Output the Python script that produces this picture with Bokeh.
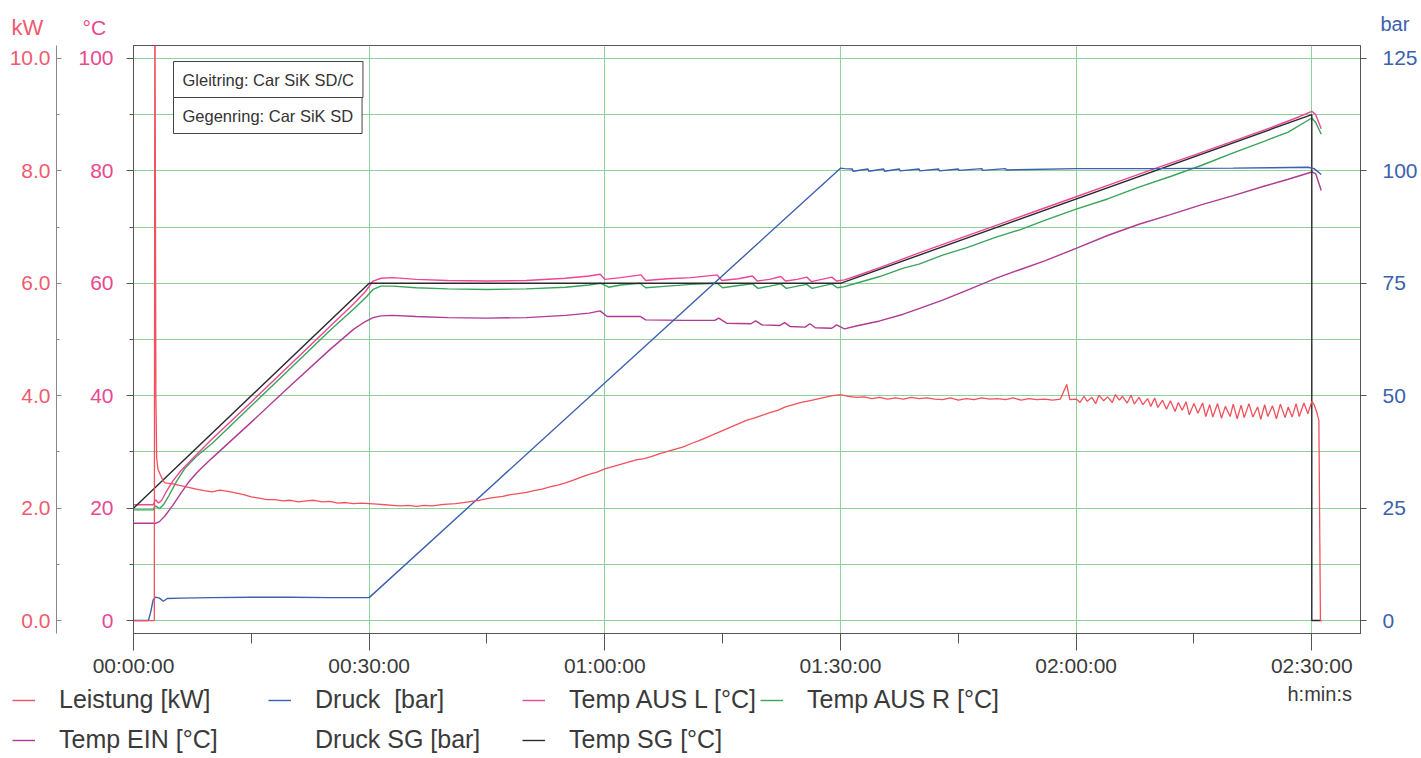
from bokeh.plotting import figure
from bokeh.layouts import column
from bokeh.models import (Range1d, LinearAxis, FixedTicker, NumeralTickFormatter,
                          Label, Legend, LegendItem)
from bokeh.embed import file_html
from bokeh.resources import INLINE

FONT = "Liberation Sans"
NAN = float("nan")

# ---------------- axes / ticks ----------------
x_ticks = [0, 30, 60, 90, 120, 150]
x_tick_labels = ["00:00:00", "00:30:00", "01:00:00", "01:30:00", "02:00:00", "02:30:00"]
x_minor = [15, 45, 75, 105, 135]
c_ticks = [0, 20, 40, 60, 80, 100]
c_minor = [10, 30, 50, 70, 90]
c_grid = [0, 10, 20, 30, 40, 50, 60, 70, 80, 90, 100]
kw_ticks = [0, 2, 4, 6, 8, 10]
kw_minor = [1, 3, 5, 7, 9]
bar_ticks = [0, 25, 50, 75, 100, 125]

series_names = ["Leistung [kW]", "Druck  [bar]", "Temp AUS L [°C]", "Temp AUS R [°C]",
                "Temp EIN [°C]", "Druck SG [bar]", "Temp SG [°C]"]
info_texts = ["Gleitring: Car SiK SD/C", "Gegenring: Car SiK SD"]

# ---------------- data (time in minutes) ----------------
# Temp SG [°C]
sg_t = [0, 30, 90, 150, 150, 151.2]
sg_v = [20, 60, 60, 90, 0, 0]

# Druck [bar]
p_t = [0, 1.9, 2.2, 2.5, 2.8, 3.3, 3.8, 4.3, 6, 10, 15, 20, 25, 30, 90, 90.5,
       91.5, 91.6, 93.5, 93.6, 95.5, 95.6, 97.5, 97.6, 100, 100.1, 102.5, 102.6,
       105, 105.1, 108, 108.1, 111, 111.1, 120, 130, 140, 145, 149.5, 150.3, 151.2]
p_v = [0, 0, 2.0, 4.6, 5.2, 5.0, 4.3, 4.9, 5.0, 5.1, 5.2, 5.2, 5.1, 5.1, 100.6, 100.5,
       100.4, 99.9, 100.4, 99.9, 100.4, 99.9, 100.4, 100.0, 100.4, 100.0, 100.4, 100.0,
       100.4, 100.1, 100.5, 100.1, 100.5, 100.2, 100.5, 100.5, 100.6, 100.7, 100.8, 100.5, 99.2]

# Leistung [kW]
kw_t = [0, 2.65, 2.72, 2.85, 2.95, 3.1, 3.4, 3.8,
        4, 5, 6, 7, 8, 9, 10, 11, 12, 13, 14, 15, 16, 17, 18, 19, 20, 21, 22, 23, 24, 25,
        26, 27, 28, 29, 30, 31, 32, 33, 34, 35, 36, 37, 38, 39, 40, 41, 42, 43, 44, 45,
        46, 47, 48, 49, 50, 51, 52, 53, 54, 55, 56, 57, 58, 59, 60, 61, 62, 63, 64, 65,
        66, 67, 68, 69, 70, 71, 72, 73, 74, 75, 76, 77, 78, 79, 80, 81, 82, 83, 84, 85,
        86, 87, 88, 89, 90, 91, 92, 93, 94, 95, 96, 97, 98, 99, 100, 101, 102, 103, 104, 105,
        106, 107, 108, 109, 110, 111, 112, 113, 114, 115, 116, 117, 118, 118.8, 119.2, 120,
        120.5, 121, 121.4, 122, 122.5, 122.9, 123.5, 124, 124.6, 125, 125.5, 125.9, 126.5, 127,
        127.4, 128, 128.5, 129.1, 129.5, 130, 130.4, 131, 131.5, 132, 132.6, 133, 133.5, 134,
        134.4, 135, 135.5, 136.1, 136.5, 137, 137.4, 138, 138.5, 139, 139.6, 140, 140.5, 141,
        141.4, 142, 142.5, 143.1, 143.5, 144, 144.4, 145, 145.5, 146, 146.6, 147, 147.5, 148,
        148.4, 149, 149.5, 150, 150.3, 150.6, 150.9, 151.1, 151.2, 151.3]
kw_v = [0, 0, 12.0, 4.0, 2.9, 2.7, 2.6, 2.48,
        2.45, 2.43, 2.40, 2.37, 2.34, 2.31, 2.29, 2.32, 2.30, 2.27, 2.24, 2.20, 2.18, 2.15, 2.15, 2.13, 2.14, 2.11, 2.13, 2.14, 2.11, 2.12,
        2.09, 2.10, 2.08, 2.09, 2.08, 2.07, 2.06, 2.05, 2.04, 2.05, 2.03, 2.05, 2.04, 2.06, 2.07, 2.08, 2.10, 2.12, 2.14, 2.17,
        2.19, 2.21, 2.24, 2.26, 2.28, 2.31, 2.34, 2.38, 2.41, 2.45, 2.50, 2.55, 2.60, 2.64, 2.70, 2.74, 2.78, 2.82, 2.86, 2.88,
        2.92, 2.97, 3.01, 3.05, 3.09, 3.15, 3.20, 3.26, 3.32, 3.38, 3.44, 3.50, 3.56, 3.60, 3.65, 3.70, 3.74, 3.80, 3.84, 3.88,
        3.91, 3.94, 3.97, 4.00, 4.02, 3.99, 3.97, 3.98, 3.95, 3.97, 3.94, 3.96, 3.94, 3.97, 3.95, 3.96, 3.94, 3.93, 3.96, 3.92,
        3.95, 3.93, 3.96, 3.94, 3.95, 3.93, 3.96, 3.92, 3.95, 3.93, 3.94, 3.92, 3.94, 4.20, 3.93, 3.94,
        3.88, 3.99, 3.90, 3.97, 3.86, 4.01, 3.91, 3.98, 3.88, 4.02, 3.92, 3.99, 3.87, 4.01,
        3.85, 3.97, 3.84, 3.95, 3.81, 3.96, 3.79, 3.92, 3.76, 3.91, 3.72, 3.88, 3.74, 3.89,
        3.66, 3.86, 3.69, 3.87, 3.63, 3.84, 3.62, 3.86, 3.60, 3.81, 3.63, 3.85, 3.59, 3.83,
        3.61, 3.86, 3.62, 3.80, 3.58, 3.84, 3.63, 3.82, 3.59, 3.85, 3.61, 3.80, 3.62, 3.86,
        3.63, 3.87, 3.68, 3.90, 3.84, 3.72, 3.56, 0, 0, 0]

# Temp AUS L [°C]
al_t = [0, 2.5, 2.8, 3.2, 3.6, 4.2, 5, 6, 8, 10, 15, 20, 25, 28, 29.5, 30.5, 31.5, 33, 36,
        40, 45, 50, 55, 58, 59.4, 60, 62, 64.6, 65.2, 68, 71, 74.3, 74.9, 77, 78.8, 79.4,
        81, 82.4, 83, 84.5, 85.7, 86.3, 88.9, 89.5, 90.5, 92, 95, 100, 105, 110, 115, 120,
        125, 130, 135, 140, 145, 148, 150, 150.5, 151.2]
al_v = [20.6, 20.6, 21.5, 20.9, 21.4, 23.0, 24.8, 26.6, 29.5, 32.3, 38.9, 45.6, 52.3, 56.3,
        58.5, 60.4, 60.9, 61.0, 60.7, 60.5, 60.4, 60.5, 60.9, 61.3, 61.6, 60.7, 61.0, 61.5,
        60.5, 60.8, 61.0, 61.5, 60.5, 60.8, 61.3, 60.4, 60.7, 61.2, 60.4, 60.7, 61.1, 60.3,
        61.1, 60.4, 60.6, 61.3, 62.8, 65.4, 67.9, 70.4, 72.9, 75.4, 77.9, 80.4, 82.8, 85.3,
        87.8, 89.4, 90.6, 90.0, 87.5]

# Temp AUS R [°C]
ar_t = [0, 2.5, 2.8, 3.3, 3.8, 4.5, 5.5, 6.6, 8, 10, 15, 20, 25, 28, 29.5, 30.5, 31.5, 33, 36,
        40, 45, 50, 55, 58, 59.5, 60.5, 62, 64.5, 65.2, 68, 71, 74.3, 75, 77, 78.8, 79.5, 81,
        82.4, 83.1, 84.5, 85.7, 86.4, 88.9, 89.6, 90.5, 92, 95, 98, 100, 103, 106, 110, 113,
        116, 120, 124, 128, 132, 136, 140, 144, 147, 150, 150.5, 151.2]
ar_v = [19.7, 19.7, 20.4, 19.9, 20.6, 22.2, 24.8, 27.2, 29.2, 31.5, 38.2, 44.9, 51.6, 55.4,
        57.4, 58.9, 59.5, 59.5, 59.2, 59.0, 58.9, 59.0, 59.3, 59.7, 60.0, 59.3, 59.7, 60.0,
        59.2, 59.5, 59.8, 60.0, 59.2, 59.6, 59.9, 59.1, 59.5, 59.9, 59.1, 59.5, 59.8, 59.1,
        59.9, 59.2, 59.4, 60.0, 61.2, 62.7, 63.4, 65.0, 66.3, 68.3, 69.6, 71.2, 73.2, 75.0,
        77.1, 79.0, 81.0, 83.2, 85.3, 86.9, 89.4, 88.6, 86.5]

# Temp EIN [°C]
ein_t = [0, 2.8, 3.3, 4, 5, 6, 7, 8, 8.8, 10, 15, 20, 25, 28, 29.5, 30.5, 31.5, 33, 36, 40,
         45, 50, 55, 58, 59.4, 60.3, 62, 64.5, 65.2, 70, 74.0, 74.5, 75.5, 78.6, 79.2, 80,
         82.3, 82.9, 83.6, 85.5, 86.1, 86.8, 88.9, 89.5, 90.5, 92, 95, 98, 100, 103, 106,
         110, 113, 116, 120, 124, 128, 132, 136, 140, 144, 147, 150, 150.5, 151.2]
ein_v = [17.3, 17.3, 17.6, 18.6, 20.5, 22.6, 24.6, 26.2, 27.3, 28.9, 35.3, 41.8, 48.2, 51.8,
         53.2, 53.9, 54.2, 54.3, 54.1, 53.9, 53.8, 53.9, 54.3, 54.7, 55.1, 54.1, 54.1, 54.1,
         53.5, 53.4, 53.4, 53.8, 52.9, 52.8, 53.3, 52.6, 52.5, 53.0, 52.3, 52.2, 52.8, 52.1,
         52.0, 52.6, 51.9, 52.4, 53.3, 54.5, 55.5, 57.0, 58.7, 61.0, 62.5, 64.0, 66.2, 68.5,
         70.5, 72.2, 74.0, 75.6, 77.3, 78.5, 79.8, 79.5, 76.5]

# ---------------- colours ----------------
C_KW = "#f2505c"
C_KW_LBL = "#f05a70"
C_DEG_LBL = "#e9488f"
C_BAR = "#3c5fae"
C_AUSL = "#ee4596"
C_AUSR = "#3aa45a"
C_EIN = "#b03a94"
C_SG = "#2a2a2a"
C_GRID = "#8ed29c"
C_TXT = "#3a3a3a"
C_AX = "#555555"
series_colors = [C_KW, C_BAR, C_AUSL, C_AUSR, C_EIN, None, C_SG]

W = 1421

def blank(height):
    f = figure(width=W, height=height, output_backend="svg", toolbar_location=None,
               x_range=Range1d(0, 1), y_range=Range1d(0, 1),
               x_axis_type=None, y_axis_type=None, min_border=0, frame_align=False,
               background_fill_color="white", border_fill_color="white")
    f.outline_line_color = None
    f.grid.visible = False
    return f

def lbl(text, x, y, size, color):
    return Label(x=x, y=y, x_units="screen", y_units="screen", text=text,
                 text_font=FONT, text_font_size=size, text_color=color,
                 text_baseline="alphabetic")

# ---------------- top strip: unit titles ----------------
top = blank(40)
top.add_layout(lbl("kW", 11, 13, "22px", C_KW_LBL))
top.add_layout(lbl("°C", 82, 13, "21px", C_DEG_LBL))
top.add_layout(lbl("bar", 1380, 17, "20px", C_BAR))

# ---------------- main chart ----------------
p = figure(width=W, height=640, output_backend="svg", toolbar_location=None,
           x_range=Range1d(0, 156.2), y_range=Range1d(-2.3, 102.3),
           min_border_left=133, min_border_right=61, min_border_top=5, min_border_bottom=47,
           frame_align=False,
           background_fill_color="white", border_fill_color="white")
p.extra_y_ranges = {"kw": Range1d(-0.23, 10.23), "bar": Range1d(-2.875, 127.875)}
p.outline_line_color = C_AX
p.outline_line_width = 1

p.xgrid.ticker = FixedTicker(ticks=x_ticks)
p.ygrid.ticker = FixedTicker(ticks=c_grid)
for g in (p.xgrid, p.ygrid):
    g.grid_line_color = C_GRID
    g.grid_line_width = 1

xa = p.xaxis[0]
xa.ticker = FixedTicker(ticks=x_ticks, minor_ticks=x_minor)
xa.major_label_overrides = dict(zip(x_ticks, x_tick_labels))
xa.major_tick_out = 17
xa.major_tick_in = 0
xa.minor_tick_out = 10
xa.minor_tick_in = 0
xa.major_label_standoff = 3
xa.major_label_text_font = FONT
xa.major_label_text_font_size = "21px"
xa.major_label_text_color = C_TXT
xa.axis_line_color = C_AX
xa.major_tick_line_color = C_AX
xa.minor_tick_line_color = C_AX

ca = p.yaxis[0]
ca.ticker = FixedTicker(ticks=c_ticks, minor_ticks=c_minor)
ca.major_tick_out = 7
ca.major_tick_in = 0
ca.minor_tick_out = 4
ca.minor_tick_in = 0
ca.major_label_standoff = 13
ca.major_label_text_font = FONT
ca.major_label_text_font_size = "21px"
ca.major_label_text_color = C_DEG_LBL
ca.axis_line_color = C_AX
ca.major_tick_line_color = C_AX
ca.minor_tick_line_color = C_AX
ca.axis_label = " "
ca.axis_label_standoff = 0
ca.axis_label_text_font_size = "14px"

ka = LinearAxis(y_range_name="kw", ticker=FixedTicker(ticks=kw_ticks, minor_ticks=kw_minor),
                formatter=NumeralTickFormatter(format="0.0"))
ka.major_tick_out = 0
ka.major_tick_in = 5
ka.minor_tick_out = 0
ka.minor_tick_in = 3
ka.major_label_standoff = 6
ka.major_label_text_font = FONT
ka.major_label_text_font_size = "21px"
ka.major_label_text_color = C_KW_LBL
ka.axis_line_color = "#888888"
ka.major_tick_line_color = "#888888"
ka.minor_tick_line_color = "#888888"
p.add_layout(ka, "left")

ba = LinearAxis(y_range_name="bar", ticker=FixedTicker(ticks=bar_ticks))
ba.major_tick_out = 6
ba.major_tick_in = 0
ba.minor_tick_out = 0
ba.minor_tick_in = 0
ba.major_label_standoff = 16
ba.major_label_text_font = FONT
ba.major_label_text_font_size = "21px"
ba.major_label_text_color = C_BAR
ba.axis_line_color = C_AX
ba.major_tick_line_color = C_AX
p.add_layout(ba, "right")

p.line(ein_t, ein_v, line_color=C_EIN, line_width=1.4)
p.line(ar_t, ar_v, line_color=C_AUSR, line_width=1.4)
p.line(al_t, al_v, line_color=C_AUSL, line_width=1.4)
p.line(sg_t, sg_v, line_color=C_SG, line_width=1.4)
p.line(p_t, p_v, y_range_name="bar", line_color=C_BAR, line_width=1.4)
p.line(kw_t, kw_v, y_range_name="kw", line_color=C_KW, line_width=1.3)

# info boxes (inside the frame)
for text, yb in zip(info_texts, (536, 500)):
    sh = Label(x=42, y=yb - 2, x_units="screen", y_units="screen", text=text,
               text_font=FONT, text_font_size="16.5px", text_alpha=0,
               background_fill_color="#3a3a3a", padding=9,
               text_align="left", text_baseline="bottom")
    bx = Label(x=40, y=yb, x_units="screen", y_units="screen", text=text,
               text_font=FONT, text_font_size="16.5px", text_color="#333333",
               background_fill_color="white", border_line_color="#444444", padding=9,
               text_align="left", text_baseline="bottom")
    p.add_layout(sh)
    p.add_layout(bx)

# ---------------- bottom strip: legend ----------------
bot = blank(78)
proxies = []
for c in series_colors:
    if c is None:
        proxies.append(bot.line(x=[NAN], y=[NAN], line_alpha=0))
    else:
        proxies.append(bot.line(x=[NAN], y=[NAN], line_color=c, line_width=1.4))

def make_legend(idx, x, y):
    return Legend(items=[LegendItem(label=series_names[i], renderers=[proxies[i]]) for i in idx],
                  location=(x, y), orientation="vertical",
                  glyph_width=23, glyph_height=20, label_standoff=24, spacing=11,
                  padding=0, margin=0, border_line_alpha=0, background_fill_alpha=0,
                  label_text_font=FONT, label_text_font_size="25px",
                  label_text_color=C_TXT)

bot.add_layout(make_legend([0, 4], 12, 4), "center")
bot.add_layout(make_legend([1, 5], 268, 4), "center")
bot.add_layout(make_legend([2, 6], 522, 4), "center")
bot.add_layout(make_legend([3], 760, 44), "center")
bot.add_layout(lbl("h:min:s", 1287, 65, "20px", C_TXT))

layout = column(top, p, bot, spacing=0)
open("out.html", "w").write(file_html(layout, INLINE))
